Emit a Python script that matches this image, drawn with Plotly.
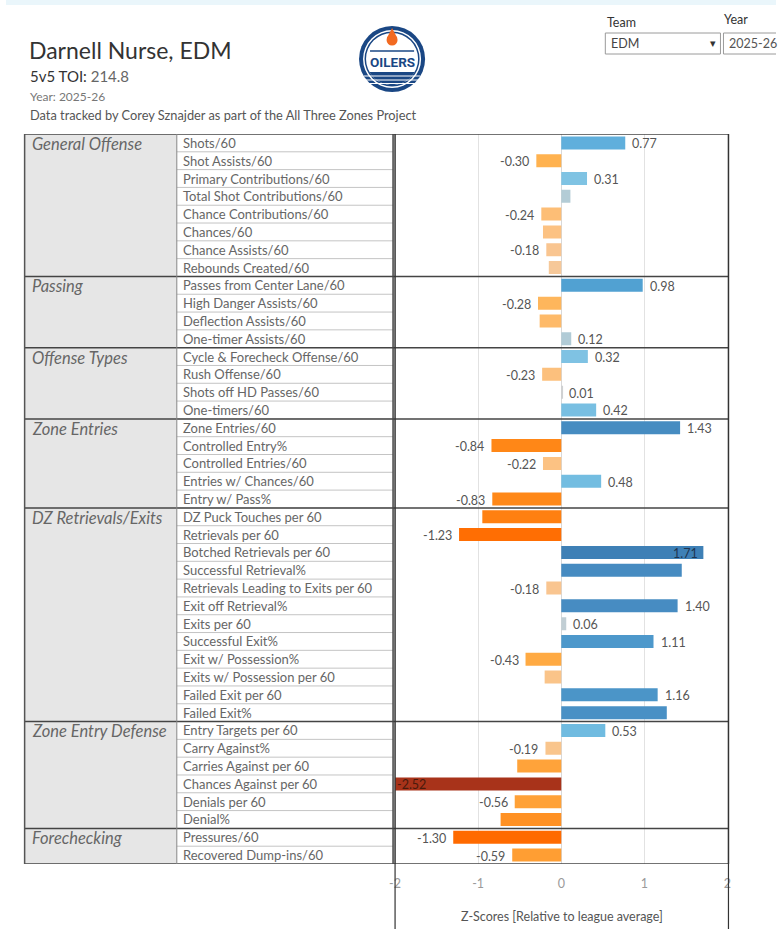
import math
import plotly.graph_objects as go

# ---------------- data ----------------
groups = ["General Offense", "Passing", "Offense Types", "Zone Entries",
          "DZ Retrievals/Exits", "Zone Entry Defense", "Forechecking"]
group_sizes = [8, 4, 4, 5, 12, 6, 2]

metrics = [
    "Shots/60", "Shot Assists/60", "Primary Contributions/60", "Total Shot Contributions/60",
    "Chance Contributions/60", "Chances/60", "Chance Assists/60", "Rebounds Created/60",
    "Passes from Center Lane/60", "High Danger Assists/60", "Deflection Assists/60", "One-timer Assists/60",
    "Cycle & Forecheck Offense/60", "Rush Offense/60", "Shots off HD Passes/60", "One-timers/60",
    "Zone Entries/60", "Controlled Entry%", "Controlled Entries/60", "Entries w/ Chances/60", "Entry w/ Pass%",
    "DZ Puck Touches per 60", "Retrievals per 60", "Botched Retrievals per 60", "Successful Retrieval%",
    "Retrievals Leading to Exits per 60", "Exit off Retrieval%", "Exits per 60", "Successful Exit%",
    "Exit w/ Possession%", "Exits w/ Possession per 60", "Failed Exit per 60", "Failed Exit%",
    "Entry Targets per 60", "Carry Against%", "Carries Against per 60", "Chances Against per 60",
    "Denials per 60", "Denial%",
    "Pressures/60", "Recovered Dump-ins/60",
]

zscores = [
    0.77, -0.30, 0.31, 0.11, -0.24, -0.22, -0.18, -0.15,
    0.98, -0.28, -0.26, 0.12,
    0.32, -0.23, 0.01, 0.42,
    1.43, -0.84, -0.22, 0.48, -0.83,
    -0.95, -1.23, 1.71, 1.45, -0.18, 1.40, 0.06, 1.11, -0.43, -0.20, 1.16, 1.27,
    0.53, -0.19, -0.53, -2.52, -0.56, -0.73,
    -1.30, -0.59,
]

shown_labels = [
    "0.77", "-0.30", "0.31", "", "-0.24", "", "-0.18", "",
    "0.98", "-0.28", "", "0.12",
    "0.32", "-0.23", "0.01", "0.42",
    "1.43", "-0.84", "-0.22", "0.48", "-0.83",
    "", "-1.23", "1.71", "", "-0.18", "1.40", "0.06", "1.11", "-0.43", "", "1.16", "",
    "0.53", "-0.19", "", "-2.52", "-0.56", "",
    "-1.30", "-0.59",
]

x_ticks = [-2, -1, 0, 1, 2]
x_range = [-2, 2]

player_name = "Darnell Nurse, EDM"
toi = "214.8"
season = "2025-26"
team = "EDM"

# ---------------- layout helpers ----------------
W, H = 780, 949
# horizontal correction for the capture's slight horizontal squeeze
SX, OX = 0.986, 6.4
def px(x):
    return ((x - OX) / SX) / W
def py(y):
    return 1 - y / H

FONT = "Lato"
TABLE_TOP, TABLE_BOT = 134, 864
X_CAT0, X_CAT1, X_MET1 = 25, 177, 393
X_CH0, X_CH1 = 395, 728

cmin, cmax = -2.6, 2.6
stops = [(-2.6, "#a3301a"), (-2.0, "#c9441a"), (-1.3, "#ff6a00"), (-0.85, "#ff8616"),
         (-0.55, "#ffa238"), (-0.3, "#ffb24f"), (-0.22, "#fcc283"), (-0.15, "#f6c899"),
         (0.0, "#d2d2d2"), (0.1, "#b6ccd5"), (0.3, "#80c3e3"), (0.5, "#72bce1"),
         (0.8, "#5eaedb"), (1.0, "#509fd1"), (1.2, "#4a92c6"), (1.45, "#468bc1"),
         (1.7, "#3e80b6"), (2.6, "#2b5f8e")]
colorscale = [[(v - cmin) / (cmax - cmin), c] for v, c in stops]

fig = go.Figure()

fig.add_trace(go.Bar(
    x=zscores, y=metrics, orientation="h",
    marker=dict(color=zscores, colorscale=colorscale, cmin=cmin, cmax=cmax, line=dict(width=0)),
    hoverinfo="x+y", showlegend=False,
))

shapes = []
annotations = []

# value labels (positioned from the data values)
for m, v, t in zip(metrics, zscores, shown_labels):
    if not t:
        continue
    if v < x_range[0]:
        ax, anc, sh, col = x_range[0], "left", 0, "#4a1a0c"
    elif v >= 1.6:
        ax, anc, sh, col = v, "right", -3, "#1f3550"
    elif v >= 0:
        ax, anc, sh, col = v, "left", 5, "#555555"
    else:
        ax, anc, sh, col = v, "right", -5, "#555555"
    annotations.append(dict(x=ax, y=m, xref="x", yref="y", text=t, showarrow=False,
                            xanchor=anc, yanchor="middle", xshift=sh, yshift=-1,
                            font=dict(family=FONT, size=12.5, color=col)))

# top light strip
shapes.append(dict(type="rect", xref="paper", yref="paper", x0=0, x1=1, y0=py(5), y1=1,
                   fillcolor="#eaf6fb", line=dict(width=0), layer="below"))

n = len(metrics)
# category column background
shapes.append(dict(type="rect", xref="paper", yref="paper", x0=px(X_CAT0), x1=px(X_CAT1),
                   y0=py(TABLE_BOT), y1=py(TABLE_TOP), fillcolor="#e6e6e6",
                   line=dict(width=0), layer="below"))

# row lines in metric column
for i in range(n - 1):
    shapes.append(dict(type="line", xref="paper", yref="y", x0=px(X_CAT1), x1=px(X_MET1),
                       y0=i + 0.5, y1=i + 0.5, line=dict(color="#c4c4c4", width=1)))

# group separators
start = 0
bounds = [-0.5]
for s in group_sizes:
    start += s
    bounds.append(start - 0.5)
for b in bounds:
    shapes.append(dict(type="line", xref="paper", yref="y", x0=px(X_CAT0), x1=px(X_CH1),
                       y0=b, y1=b, line=dict(color="#444444", width=1.5)))

# vertical borders
for xv, col, w in [(X_CAT0, "#555555", 1.5), (X_CAT1, "#888888", 1), (X_MET1, "#444444", 1.5),
                   (X_CH0, "#333333", 1.5), (X_CH1, "#333333", 1.5)]:
    shapes.append(dict(type="line", xref="paper", yref="paper", x0=px(xv), x1=px(xv),
                       y0=py(TABLE_BOT), y1=py(TABLE_TOP), line=dict(color=col, width=w)))
# axis pane side lines
for xv in (X_CH0, X_CH1):
    shapes.append(dict(type="line", xref="paper", yref="paper", x0=px(xv), x1=px(xv),
                       y0=py(929), y1=py(TABLE_BOT), line=dict(color="#333333", width=1.2)))

# metric labels
for m in metrics:
    annotations.append(dict(x=px(181), y=m, xref="paper", yref="y", text=m, showarrow=False,
                            xanchor="left", yanchor="middle",
                            font=dict(family=FONT, size=13, color="#666666")))
# group labels
start = 0
for g, s in zip(groups, group_sizes):
    annotations.append(dict(x=px(30), y=metrics[start], xref="paper", yref="y",
                            text="<i>" + g + "</i>", showarrow=False, xanchor="left",
                            yanchor="middle", yshift=-1,
                            font=dict(family=FONT, size=16.5, color="#666666")))
    start += s

# axis title
annotations.append(dict(x=(px(X_CH0) + px(X_CH1)) / 2, y=py(916), xref="paper", yref="paper",
                        text="Z-Scores [Relative to league average]", showarrow=False,
                        xanchor="center", yanchor="middle",
                        font=dict(family=FONT, size=12.5, color="#555555")))

# header texts
annotations.append(dict(x=px(27), y=py(50), xref="paper", yref="paper", text=player_name,
                        showarrow=False, xanchor="left", yanchor="middle",
                        font=dict(family=FONT, size=23, color="#333333")))
annotations.append(dict(x=px(28), y=py(76), xref="paper", yref="paper",
                        text="<span style='color:#333333'>5v5 TOI:</span> " + toi,
                        showarrow=False, xanchor="left", yanchor="middle",
                        font=dict(family=FONT, size=15, color="#666666")))
annotations.append(dict(x=px(28), y=py(97), xref="paper", yref="paper", text="Year: " + season,
                        showarrow=False, xanchor="left", yanchor="middle",
                        font=dict(family=FONT, size=12, color="#777777")))
annotations.append(dict(x=px(28), y=py(115), xref="paper", yref="paper",
                        text="Data tracked by Corey Sznajder as part of the All Three Zones Project",
                        showarrow=False, xanchor="left", yanchor="middle",
                        font=dict(family=FONT, size=12.8, color="#555555")))

# filter controls
annotations.append(dict(x=px(605), y=py(22), xref="paper", yref="paper", text="Team",
                        showarrow=False, xanchor="left", yanchor="middle",
                        font=dict(family=FONT, size=12.5, color="#333333")))
annotations.append(dict(x=px(722), y=py(20), xref="paper", yref="paper", text="Year",
                        showarrow=False, xanchor="left", yanchor="middle",
                        font=dict(family=FONT, size=12.5, color="#333333")))
shapes.append(dict(type="rect", xref="paper", yref="paper", x0=px(605), x1=px(720),
                   y0=py(54), y1=py(33), fillcolor="white", line=dict(color="#9a9a9a", width=1)))
# year box clipped by the right window edge: draw only left/top/bottom edges
for (xa, ya, xb, yb) in [(723, 33, 723, 54), (723, 33, 780, 33), (723, 54, 780, 54)]:
    shapes.append(dict(type="line", xref="paper", yref="paper", x0=px(xa), x1=min(px(xb), 1),
                       y0=py(ya), y1=py(yb), line=dict(color="#9a9a9a", width=1)))
annotations.append(dict(x=px(609), y=py(44), xref="paper", yref="paper", text=team,
                        showarrow=False, xanchor="left", yanchor="middle",
                        font=dict(family=FONT, size=12.5, color="#444444")))
annotations.append(dict(x=px(713), y=py(44), xref="paper", yref="paper", text="▾",
                        showarrow=False, xanchor="center", yanchor="middle",
                        font=dict(family="DejaVu Sans", size=11, color="#333333")))
annotations.append(dict(x=px(727), y=py(44), xref="paper", yref="paper", text=season,
                        showarrow=False, xanchor="left", yanchor="middle",
                        font=dict(family=FONT, size=12.5, color="#555555")))

# logo (Oilers-style roundel)
BLUE = "#1a4784"
cx, cy, r = 392, 59, 33
def circ(rad, color, ccx=cx, ccy=cy):
    return dict(type="circle", xref="paper", yref="paper", x0=px(ccx - rad), x1=px(ccx + rad),
                y0=py(ccy + rad), y1=py(ccy - rad), fillcolor=color, line=dict(width=0))
shapes.append(circ(r, BLUE))
shapes.append(circ(r - 4, "white"))
shapes.append(circ(r - 5.5, BLUE))
shapes.append(circ(r - 7, "white"))
# lower blue band (chord segment of inner disc) with white stripes
ri = r - 7
y_cut = cy + 13
pts = []
for k in range(0, 181, 5):
    a = math.radians(k)
    pts.append((cx + ri * math.cos(a), max(cy + ri * math.sin(a), y_cut)))
path = "M " + " L ".join(f"{px(x):.5f},{py(y):.5f}" for x, y in pts) + " Z"
shapes.append(dict(type="path", xref="paper", yref="paper", path=path,
                   fillcolor=BLUE, line=dict(width=0)))
for yy in (cy + 17, cy + 21, cy + 24.5):
    shapes.append(dict(type="line", xref="paper", yref="paper", x0=px(cx - 28), x1=px(cx + 28),
                       y0=py(yy), y1=py(yy), line=dict(color="white", width=1)))
# blue bar above letters
shapes.append(dict(type="line", xref="paper", yref="paper", x0=px(cx - 22), x1=px(cx + 22),
                   y0=py(cy - 8), y1=py(cy - 8), line=dict(color=BLUE, width=1.5)))
# orange drop
shapes.append(circ(5.5, "#f26a21", cx, cy - 19))
shapes.append(dict(type="path", xref="paper", yref="paper",
                   path=f"M {px(cx-5.2):.5f},{py(cy-21):.5f} L {px(cx):.5f},{py(cy-31):.5f} L {px(cx+5.2):.5f},{py(cy-21):.5f} Z",
                   fillcolor="#f26a21", line=dict(width=0)))
annotations.append(dict(x=px(cx), y=py(cy + 3), xref="paper", yref="paper", text="<b>OILERS</b>",
                        showarrow=False, xanchor="center", yanchor="middle",
                        font=dict(family="Roboto", size=13.5, color=BLUE)))

fig.update_layout(
    width=W, height=H, autosize=False,
    margin=dict(l=0, r=0, t=0, b=0),
    paper_bgcolor="white", plot_bgcolor="white",
    bargap=0.27,
    shapes=shapes, annotations=annotations,
    xaxis=dict(domain=[px(X_CH0), px(X_CH0 + 332)], range=x_range, tickvals=x_ticks,
               ticktext=[str(t) for t in x_ticks], showgrid=True, gridcolor="#e2e2e2",
               gridwidth=1, zeroline=True, zerolinecolor="#d8d8d8", zerolinewidth=1,
               tickfont=dict(family=FONT, size=12.5, color="#9a9a9a"), ticks="",
               ticklabelstandoff=10, showline=False, fixedrange=True),
    yaxis=dict(domain=[py(TABLE_BOT), py(TABLE_TOP)], type="category",
               categoryorder="array", categoryarray=metrics,
               range=[n - 0.5, -0.5], showticklabels=False, showgrid=False,
               zeroline=False, showline=False, ticks="", fixedrange=True),
    font=dict(family=FONT),
)

fig.write_html("out.html", config={"displayModeBar": False},
               post_script="document.body.style.margin='0';document.body.style.overflow='hidden';")
